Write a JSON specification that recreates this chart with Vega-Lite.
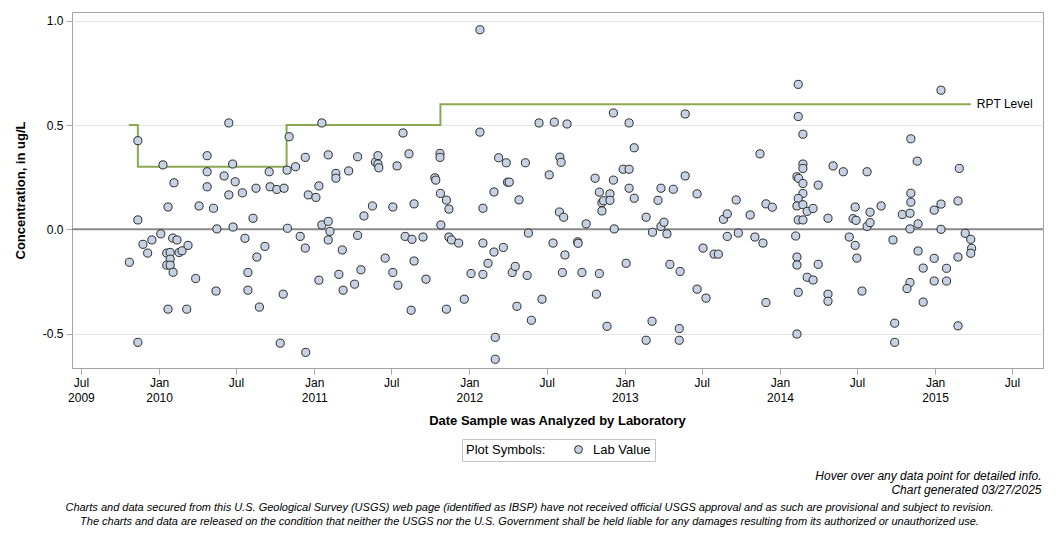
{
  "$schema": "https://vega.github.io/schema/vega-lite/v6.json",
  "width": 971,
  "height": 356,
  "autosize": {"type": "none"},
  "padding": {"left": 72, "top": 12, "right": 13, "bottom": 170},
  "background": "#ffffff",
  "datasets": {
    "rpt": [
      {"d": "2009-10-22", "v": 0.5},
      {"d": "2009-11-12", "v": 0.3},
      {"d": "2010-10-28", "v": 0.5},
      {"d": "2011-10-25", "v": 0.6},
      {"d": "2015-03-26", "v": 0.6, "label": "RPT Level"}
    ],
    "lab": [
      {"d": "2009-10-23", "v": -0.158}, {"d": "2009-11-12", "v": 0.425}, {"d": "2009-11-12", "v": 0.045}, {"d": "2009-11-12", "v": -0.542},
      {"d": "2009-11-24", "v": -0.072}, {"d": "2009-12-05", "v": -0.114}, {"d": "2009-12-15", "v": -0.051}, {"d": "2010-01-05", "v": -0.022},
      {"d": "2010-01-10", "v": 0.309}, {"d": "2010-01-22", "v": 0.107}, {"d": "2010-01-22", "v": -0.383}, {"d": "2010-02-05", "v": 0.223},
      {"d": "2010-01-19", "v": -0.114}, {"d": "2010-01-27", "v": -0.111}, {"d": "2010-01-27", "v": -0.143}, {"d": "2010-01-19", "v": -0.172},
      {"d": "2010-01-27", "v": -0.172}, {"d": "2010-02-03", "v": -0.206}, {"d": "2010-02-02", "v": -0.042}, {"d": "2010-02-12", "v": -0.051},
      {"d": "2010-02-17", "v": -0.111}, {"d": "2010-02-24", "v": -0.103}, {"d": "2010-03-10", "v": -0.077}, {"d": "2010-03-07", "v": -0.383},
      {"d": "2010-03-28", "v": -0.236}, {"d": "2010-04-05", "v": 0.112}, {"d": "2010-04-24", "v": 0.353}, {"d": "2010-04-24", "v": 0.276},
      {"d": "2010-04-24", "v": 0.204}, {"d": "2010-05-09", "v": 0.101}, {"d": "2010-05-17", "v": 0.002}, {"d": "2010-05-15", "v": -0.296},
      {"d": "2010-06-03", "v": 0.256}, {"d": "2010-06-14", "v": 0.51}, {"d": "2010-06-14", "v": 0.165}, {"d": "2010-06-23", "v": 0.313},
      {"d": "2010-06-24", "v": 0.011}, {"d": "2010-06-29", "v": 0.228}, {"d": "2010-07-16", "v": 0.175}, {"d": "2010-07-22", "v": -0.043},
      {"d": "2010-07-29", "v": -0.207}, {"d": "2010-07-29", "v": -0.292}, {"d": "2010-08-10", "v": 0.053}, {"d": "2010-08-17", "v": 0.197},
      {"d": "2010-08-19", "v": -0.133}, {"d": "2010-08-25", "v": -0.373}, {"d": "2010-09-07", "v": -0.082}, {"d": "2010-09-17", "v": 0.276},
      {"d": "2010-09-19", "v": 0.204}, {"d": "2010-10-05", "v": 0.191}, {"d": "2010-10-13", "v": -0.546}, {"d": "2010-10-20", "v": -0.311},
      {"d": "2010-10-22", "v": 0.197}, {"d": "2010-10-29", "v": 0.284}, {"d": "2010-10-30", "v": 0.005}, {"d": "2010-11-03", "v": 0.444},
      {"d": "2010-11-18", "v": 0.3}, {"d": "2010-11-29", "v": -0.034}, {"d": "2010-12-11", "v": 0.345}, {"d": "2010-12-11", "v": -0.09},
      {"d": "2010-12-12", "v": -0.59}, {"d": "2010-12-18", "v": 0.165}, {"d": "2011-01-05", "v": 0.153}, {"d": "2011-01-12", "v": 0.208},
      {"d": "2011-01-12", "v": -0.244}, {"d": "2011-01-19", "v": 0.51}, {"d": "2011-01-19", "v": 0.021}, {"d": "2011-02-03", "v": 0.038},
      {"d": "2011-02-03", "v": 0.357}, {"d": "2011-02-07", "v": -0.01}, {"d": "2011-02-03", "v": -0.051}, {"d": "2011-02-21", "v": 0.268},
      {"d": "2011-02-21", "v": 0.245}, {"d": "2011-02-28", "v": -0.216}, {"d": "2011-03-08", "v": -0.099}, {"d": "2011-03-10", "v": -0.292},
      {"d": "2011-03-23", "v": 0.28}, {"d": "2011-04-06", "v": -0.263}, {"d": "2011-04-13", "v": 0.348}, {"d": "2011-04-13", "v": -0.029},
      {"d": "2011-04-21", "v": -0.194}, {"d": "2011-04-28", "v": 0.064}, {"d": "2011-05-18", "v": 0.112}, {"d": "2011-05-25", "v": 0.322},
      {"d": "2011-05-31", "v": 0.353}, {"d": "2011-05-31", "v": 0.313}, {"d": "2011-06-02", "v": 0.295}, {"d": "2011-06-17", "v": -0.138},
      {"d": "2011-07-05", "v": 0.107}, {"d": "2011-07-05", "v": -0.207}, {"d": "2011-07-15", "v": 0.304}, {"d": "2011-07-17", "v": -0.268},
      {"d": "2011-07-29", "v": 0.462}, {"d": "2011-08-03", "v": -0.034}, {"d": "2011-08-12", "v": 0.362}, {"d": "2011-08-17", "v": -0.388},
      {"d": "2011-08-19", "v": -0.048}, {"d": "2011-08-24", "v": 0.122}, {"d": "2011-08-24", "v": -0.152}, {"d": "2011-09-14", "v": -0.037},
      {"d": "2011-09-21", "v": -0.239}, {"d": "2011-10-12", "v": 0.247}, {"d": "2011-10-14", "v": 0.236}, {"d": "2011-10-24", "v": 0.364},
      {"d": "2011-10-24", "v": 0.345}, {"d": "2011-10-25", "v": 0.172}, {"d": "2011-11-08", "v": 0.14}, {"d": "2011-11-14", "v": 0.097},
      {"d": "2011-10-26", "v": 0.021}, {"d": "2011-11-14", "v": -0.037}, {"d": "2011-11-20", "v": -0.051}, {"d": "2011-12-07", "v": -0.066},
      {"d": "2011-11-08", "v": -0.383}, {"d": "2011-12-20", "v": -0.335}, {"d": "2012-01-05", "v": -0.212}, {"d": "2012-01-26", "v": 0.957},
      {"d": "2012-01-26", "v": 0.466}, {"d": "2012-02-02", "v": 0.101}, {"d": "2012-02-02", "v": -0.066}, {"d": "2012-02-02", "v": -0.216},
      {"d": "2012-02-14", "v": -0.163}, {"d": "2012-02-28", "v": 0.179}, {"d": "2012-02-28", "v": -0.109}, {"d": "2012-03-02", "v": -0.518},
      {"d": "2012-03-02", "v": -0.623}, {"d": "2012-03-10", "v": 0.343}, {"d": "2012-03-21", "v": -0.087}, {"d": "2012-03-28", "v": 0.319},
      {"d": "2012-03-31", "v": 0.226}, {"d": "2012-04-04", "v": 0.226}, {"d": "2012-04-11", "v": -0.207}, {"d": "2012-04-18", "v": -0.178},
      {"d": "2012-04-22", "v": -0.369}, {"d": "2012-04-27", "v": 0.141}, {"d": "2012-05-12", "v": 0.319}, {"d": "2012-05-16", "v": -0.221},
      {"d": "2012-05-19", "v": -0.018}, {"d": "2012-05-26", "v": -0.436}, {"d": "2012-06-13", "v": 0.51}, {"d": "2012-06-20", "v": -0.335},
      {"d": "2012-07-07", "v": 0.261}, {"d": "2012-07-16", "v": -0.066}, {"d": "2012-07-19", "v": 0.514}, {"d": "2012-08-01", "v": 0.346},
      {"d": "2012-08-04", "v": 0.321}, {"d": "2012-07-31", "v": 0.083}, {"d": "2012-08-10", "v": 0.058}, {"d": "2012-08-13", "v": -0.123},
      {"d": "2012-08-07", "v": -0.207}, {"d": "2012-08-18", "v": 0.505}, {"d": "2012-09-12", "v": -0.06}, {"d": "2012-09-13", "v": -0.067},
      {"d": "2012-10-02", "v": 0.026}, {"d": "2012-09-22", "v": -0.207}, {"d": "2012-10-23", "v": 0.245}, {"d": "2012-11-02", "v": 0.178},
      {"d": "2012-11-02", "v": -0.212}, {"d": "2012-10-26", "v": -0.311}, {"d": "2012-11-08", "v": 0.128}, {"d": "2012-11-12", "v": 0.137},
      {"d": "2012-11-08", "v": 0.088}, {"d": "2012-11-27", "v": 0.17}, {"d": "2012-11-27", "v": 0.139}, {"d": "2012-12-05", "v": 0.558},
      {"d": "2012-12-05", "v": 0.236}, {"d": "2012-12-07", "v": 0.002}, {"d": "2012-11-20", "v": -0.465}, {"d": "2012-12-28", "v": 0.288},
      {"d": "2013-01-11", "v": 0.288}, {"d": "2013-01-11", "v": 0.51}, {"d": "2013-01-23", "v": 0.391}, {"d": "2013-01-11", "v": 0.197},
      {"d": "2013-01-23", "v": 0.149}, {"d": "2013-01-04", "v": -0.163}, {"d": "2013-02-20", "v": 0.058}, {"d": "2013-02-20", "v": -0.532},
      {"d": "2013-03-07", "v": -0.014}, {"d": "2013-03-06", "v": -0.441}, {"d": "2013-03-20", "v": 0.139}, {"d": "2013-03-27", "v": 0.197},
      {"d": "2013-03-27", "v": 0.014}, {"d": "2013-04-03", "v": 0.034}, {"d": "2013-04-10", "v": -0.022}, {"d": "2013-04-17", "v": -0.168},
      {"d": "2013-04-25", "v": 0.192}, {"d": "2013-05-09", "v": -0.476}, {"d": "2013-05-09", "v": -0.532}, {"d": "2013-05-11", "v": -0.202},
      {"d": "2013-05-23", "v": 0.553}, {"d": "2013-05-23", "v": 0.256}, {"d": "2013-06-20", "v": 0.17}, {"d": "2013-06-20", "v": -0.287},
      {"d": "2013-07-04", "v": -0.09}, {"d": "2013-07-11", "v": -0.33}, {"d": "2013-07-30", "v": -0.119}, {"d": "2013-08-09", "v": -0.119},
      {"d": "2013-08-21", "v": 0.048}, {"d": "2013-08-30", "v": 0.074}, {"d": "2013-08-30", "v": -0.034}, {"d": "2013-09-20", "v": 0.141},
      {"d": "2013-09-25", "v": -0.018}, {"d": "2013-10-23", "v": 0.069}, {"d": "2013-11-03", "v": -0.037}, {"d": "2013-11-15", "v": 0.362},
      {"d": "2013-11-22", "v": -0.066}, {"d": "2013-11-29", "v": 0.122}, {"d": "2013-12-14", "v": 0.106}, {"d": "2013-11-29", "v": -0.351},
      {"d": "2014-02-13", "v": 0.695}, {"d": "2014-02-13", "v": 0.541}, {"d": "2014-02-24", "v": 0.456}, {"d": "2014-02-24", "v": 0.313},
      {"d": "2014-02-24", "v": 0.292}, {"d": "2014-02-10", "v": 0.252}, {"d": "2014-02-14", "v": 0.244}, {"d": "2014-02-24", "v": 0.22},
      {"d": "2014-04-01", "v": 0.212}, {"d": "2014-02-24", "v": 0.172}, {"d": "2014-02-13", "v": 0.148}, {"d": "2014-02-10", "v": 0.112},
      {"d": "2014-02-24", "v": 0.118}, {"d": "2014-03-06", "v": 0.086}, {"d": "2014-03-20", "v": 0.1}, {"d": "2014-02-13", "v": 0.045},
      {"d": "2014-02-24", "v": 0.045}, {"d": "2014-02-07", "v": -0.032}, {"d": "2014-02-10", "v": -0.133}, {"d": "2014-02-10", "v": -0.171},
      {"d": "2014-04-01", "v": -0.168}, {"d": "2014-03-06", "v": -0.23}, {"d": "2014-03-20", "v": -0.243}, {"d": "2014-02-13", "v": -0.302},
      {"d": "2014-02-10", "v": -0.502}, {"d": "2014-04-24", "v": 0.053}, {"d": "2014-04-24", "v": -0.311}, {"d": "2014-04-24", "v": -0.345},
      {"d": "2014-05-06", "v": 0.304}, {"d": "2014-05-30", "v": 0.276}, {"d": "2014-06-13", "v": -0.037}, {"d": "2014-06-27", "v": 0.107},
      {"d": "2014-06-22", "v": 0.051}, {"d": "2014-06-29", "v": 0.043}, {"d": "2014-06-27", "v": -0.077}, {"d": "2014-07-01", "v": -0.138},
      {"d": "2014-07-13", "v": -0.296}, {"d": "2014-07-25", "v": 0.276}, {"d": "2014-07-25", "v": 0.014}, {"d": "2014-08-01", "v": 0.082},
      {"d": "2014-08-01", "v": 0.032}, {"d": "2014-08-27", "v": 0.112}, {"d": "2014-09-24", "v": -0.051}, {"d": "2014-09-28", "v": -0.45},
      {"d": "2014-09-28", "v": -0.542}, {"d": "2014-10-16", "v": 0.071}, {"d": "2014-11-03", "v": 0.002}, {"d": "2014-11-03", "v": 0.077},
      {"d": "2014-11-05", "v": 0.13}, {"d": "2014-11-05", "v": 0.173}, {"d": "2014-11-05", "v": 0.434}, {"d": "2014-11-20", "v": 0.327},
      {"d": "2014-11-22", "v": 0.026}, {"d": "2014-11-22", "v": -0.104}, {"d": "2014-11-03", "v": -0.255}, {"d": "2014-10-27", "v": -0.284},
      {"d": "2014-12-04", "v": -0.186}, {"d": "2014-12-04", "v": -0.349}, {"d": "2015-01-15", "v": 0.667}, {"d": "2015-02-27", "v": 0.292},
      {"d": "2015-02-24", "v": 0.136}, {"d": "2015-01-15", "v": 0.121}, {"d": "2014-12-30", "v": 0.092}, {"d": "2015-01-15", "v": 0.0},
      {"d": "2015-03-13", "v": -0.019}, {"d": "2015-03-26", "v": -0.048}, {"d": "2015-03-28", "v": -0.091}, {"d": "2015-03-26", "v": -0.115},
      {"d": "2015-02-24", "v": -0.133}, {"d": "2014-12-30", "v": -0.139}, {"d": "2015-01-28", "v": -0.187}, {"d": "2014-12-30", "v": -0.248},
      {"d": "2015-01-28", "v": -0.248}, {"d": "2015-02-24", "v": -0.463}
    ]
  },
  "layer": [
    {
      "data": {"values": [{"v": 0}]},
      "mark": {"type": "rule", "color": "#8a8a8a", "strokeWidth": 2},
      "encoding": {
        "y": {"field": "v", "type": "quantitative", "axis": null,
              "scale": {"domain": [-0.665, 1.042], "nice": false, "zero": false}}
      }
    },
    {
      "data": {"name": "rpt"},
      "mark": {"type": "line", "interpolate": "step-after", "color": "#8aa952", "strokeWidth": 2},
      "encoding": {
        "x": {"field": "d", "type": "temporal",
              "scale": {"type": "utc", "nice": false, "domain": [{"year": 2009, "month": 6, "date": 10, "utc": true}, {"year": 2015, "month": 9, "date": 12, "utc": true}]},
              "axis": {"orient": "bottom", "domain": false, "ticks": false, "labels": false, "grid": false,
                       "title": ["Charts and data secured from this U.S. Geological Survey (USGS) web page (identified as IBSP) have not received official USGS approval and as such are provisional and subject to revision.", "The charts and data are released on the condition that neither the USGS nor the U.S. Government shall be held liable for any damages resulting from its authorized or unauthorized use."],
                       "titleX": 457, "titleY": 142.5, "titleAlign": "center", "titleAnchor": null, "titleBaseline": "alphabetic", "titleAngle": 0,
                       "titleFontStyle": "italic", "titleFontWeight": "normal", "titleFontSize": 11, "titleLineHeight": 14, "titleLimit": 0}},
        "y": {"field": "v", "type": "quantitative", "axis": null,
              "scale": {"domain": [-0.665, 1.042], "nice": false, "zero": false}}
      }
    },
    {
      "data": {"name": "rpt"},
      "transform": [{"filter": "isValid(datum.label)"}],
      "mark": {"type": "text", "align": "left", "baseline": "middle", "dx": 6, "fontSize": 12, "color": "#000000"},
      "encoding": {
        "x": {"field": "d", "type": "temporal",
              "scale": {"type": "utc", "nice": false, "domain": [{"year": 2009, "month": 6, "date": 10, "utc": true}, {"year": 2015, "month": 9, "date": 12, "utc": true}]},
              "axis": {"orient": "bottom", "domain": false, "ticks": false, "labels": false, "grid": false,
                       "title": ["Hover over any data point for detailed info.", "Chart generated 03/27/2025"],
                       "titleX": 969, "titleY": 111, "titleAlign": "right", "titleAnchor": null, "titleBaseline": "alphabetic", "titleAngle": 0,
                       "titleFontStyle": "italic", "titleFontWeight": "normal", "titleFontSize": 12, "titleLineHeight": 14}},
        "y": {"field": "v", "type": "quantitative", "axis": null,
              "scale": {"domain": [-0.665, 1.042], "nice": false, "zero": false}},
        "text": {"field": "label"}
      }
    },
    {
      "data": {"name": "lab"},
      "mark": {"type": "circle", "size": 66, "opacity": 1, "stroke": "#2b2b2b", "strokeWidth": 1},
      "encoding": {
        "x": {"field": "d", "type": "temporal",
              "scale": {"type": "utc", "nice": false, "domain": [{"year": 2009, "month": 6, "date": 10, "utc": true}, {"year": 2015, "month": 9, "date": 12, "utc": true}]},
              "axis": {
                "orient": "bottom", "grid": false, "domain": false,
                "values": [
                  {"year": 2009, "month": 7, "date": 1, "utc": true}, {"year": 2010, "month": 1, "date": 1, "utc": true},
                  {"year": 2010, "month": 7, "date": 1, "utc": true}, {"year": 2011, "month": 1, "date": 1, "utc": true},
                  {"year": 2011, "month": 7, "date": 1, "utc": true}, {"year": 2012, "month": 1, "date": 1, "utc": true},
                  {"year": 2012, "month": 7, "date": 1, "utc": true}, {"year": 2013, "month": 1, "date": 1, "utc": true},
                  {"year": 2013, "month": 7, "date": 1, "utc": true}, {"year": 2014, "month": 1, "date": 1, "utc": true},
                  {"year": 2014, "month": 7, "date": 1, "utc": true}, {"year": 2015, "month": 1, "date": 1, "utc": true},
                  {"year": 2015, "month": 7, "date": 1, "utc": true}
                ],
                "labelExpr": "utcmonth(datum.value) == 0 ? ['Jan', '' + utcyear(datum.value)] : (utcyear(datum.value) == 2009 ? ['Jul', '2009'] : 'Jul')",
                "labelFontSize": 12, "labelLineHeight": 15, "labelPadding": 3, "labelOverlap": false, "labelFlush": false,
                "tickSize": 6, "tickColor": "#a8a8a8",
                "title": "Date Sample was Analyzed by Laboratory",
                "titleX": 485, "titleY": 56.5, "titleAlign": "center", "titleAnchor": null, "titleBaseline": "alphabetic",
                "titleFontSize": 13, "titleFontWeight": "bold"
              }},
        "y": {"field": "v", "type": "quantitative",
              "scale": {"domain": [-0.665, 1.042], "nice": false, "zero": false},
              "axis": {
                "orient": "left", "values": [-0.5, 0, 0.5, 1],
                "labelExpr": "datum.value < 0 ? '-' + format(-datum.value, '.1f') : format(datum.value, '.1f')",
                "grid": true, "gridColor": "#e6e6e6", "gridWidth": 1, "domain": false,
                "tickSize": 6, "tickColor": "#a8a8a8", "labelPadding": 3, "labelFontSize": 12,
                "title": "Concentration, in ug/L", "titleFontSize": 13, "titleFontWeight": "bold",
                "titleX": -51.5, "titleY": 178, "titleAngle": -90, "titleAlign": "center", "titleBaseline": "middle", "titleAnchor": null
              }},
        "fill": {"datum": "Lab Value", "type": "nominal",
                 "scale": {"range": ["#c6d2e3"]},
                 "legend": {"title": "Plot Symbols:", "orient": "none", "legendX": 390, "legendY": 427,
                            "direction": "horizontal", "titleOrient": "left", "titleFontWeight": "normal", "titleFontSize": 13,
                            "titlePadding": 26, "titleBaseline": "middle", "labelFontSize": 13, "labelOffset": 8,
                            "symbolType": "circle", "symbolSize": 62, "symbolStrokeColor": "#2b2b2b", "symbolStrokeWidth": 1,
                            "strokeColor": "#c4c4c4", "fillColor": "#ffffff", "padding": 4}}
      }
    }
  ],
  "resolve": {"axis": {"x": "independent", "y": "independent"}},
  "config": {
    "font": "Liberation Sans",
    "view": {"stroke": "#a3a3a3", "strokeWidth": 1},
    "axis": {"labelFont": "Liberation Sans", "titleFont": "Liberation Sans", "labelColor": "#000000", "titleColor": "#000000"},
    "legend": {"labelFont": "Liberation Sans", "titleFont": "Liberation Sans", "labelColor": "#000000", "titleColor": "#000000"},
    "text": {"font": "Liberation Sans"}
  }
}
